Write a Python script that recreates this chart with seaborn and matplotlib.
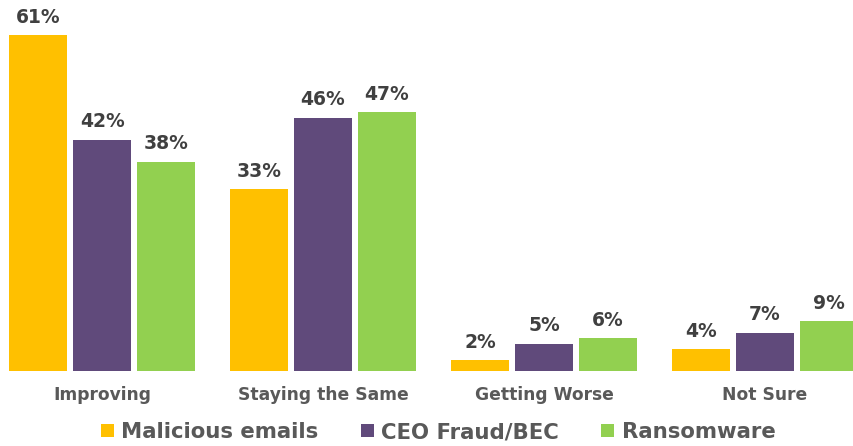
import pandas as pd
import matplotlib.pyplot as plt
import seaborn as sns
from matplotlib.patches import Patch

# Data
categories = ['Improving', 'Staying the Same', 'Getting Worse', 'Not Sure']
series = ['Malicious emails', 'CEO Fraud/BEC', 'Ransomware']
malicious = [61, 33, 2, 4]
ceo_fraud = [42, 46, 5, 7]
ransomware = [38, 47, 6, 9]
colors = ['#FFC000', '#604A7B', '#92D050']

rows = []
for name, vals in zip(series, [malicious, ceo_fraud, ransomware]):
    for cat, v in zip(categories, vals):
        rows.append({'Category': cat, 'Series': name, 'Value': v})
df = pd.DataFrame(rows)

sns.set_style('white')
plt.rcParams['font.family'] = ['DejaVu Sans']

fig = plt.figure(figsize=(8.54, 4.46), dpi=100)
ax = fig.add_axes([0, 0.168, 1, 0.832])

sns.barplot(data=df, x='Category', y='Value', hue='Series', hue_order=series,
            palette=colors, width=0.869, gap=0.094, ax=ax, legend=False,
            saturation=1, edgecolor='none')

for cont in ax.containers:
    ax.bar_label(cont, labels=[f'{int(v)}%' for v in cont.datavalues],
                 padding=6, fontsize=13.5, fontweight='bold', color='#404040')

ax.set_xlim(-0.462, 3.403)
ax.set_ylim(0, 67.35)
ax.set_xlabel('')
ax.set_ylabel('')
ax.set_yticks([])
ax.tick_params(axis='x', length=0, pad=11)
for lbl in ax.get_xticklabels():
    lbl.set_fontsize(12.3)
    lbl.set_fontweight('bold')
    lbl.set_color('#595959')
sns.despine(ax=ax, left=True, bottom=True)

handles = [Patch(facecolor=c, edgecolor='none') for c in colors]
leg = fig.legend(handles, series, loc='center', bbox_to_anchor=(0.513, 0.031),
                 ncol=3, frameon=False, handlelength=0.6, handleheight=0.6,
                 handletextpad=0.35, columnspacing=2.0,
                 prop={'size': 15.3, 'weight': 'bold'})
for t in leg.get_texts():
    t.set_color('#595959')

fig.savefig('out.png', dpi=100)
